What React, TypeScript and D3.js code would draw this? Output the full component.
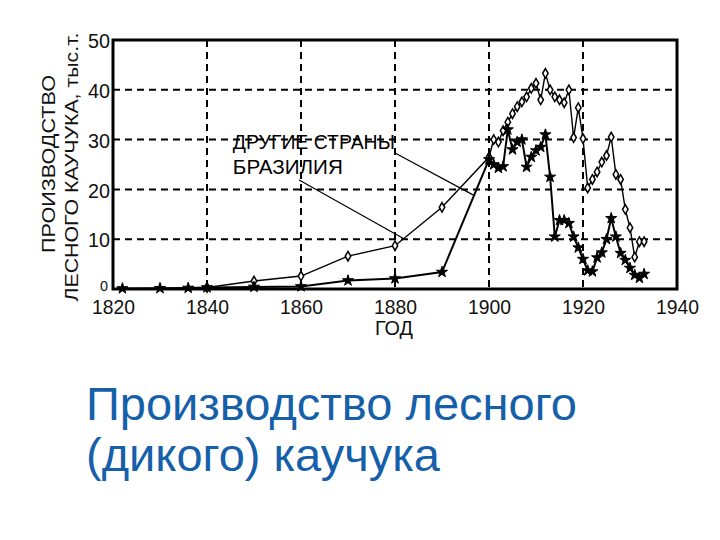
import React from "react";
import * as d3 from "d3";

const brazilYears = [1840, 1850, 1860, 1870, 1880, 1890, 1900, 1901, 1902, 1903, 1904, 1905, 1906, 1907, 1908, 1909, 1910, 1911, 1912, 1913, 1914, 1915, 1916, 1917, 1918, 1919, 1920, 1921, 1922, 1923, 1924, 1925, 1926, 1927, 1928, 1929, 1930, 1931, 1932, 1933];
const brazilValues = [0.3, 1.6, 2.6, 6.6, 8.7, 16.4, 26.5, 30.0, 29.5, 31.8, 33.5, 35.2, 36.6, 37.6, 38.6, 40.3, 41.3, 38.0, 43.3, 40.0, 38.6, 38.0, 37.4, 40.0, 30.4, 36.4, 30.2, 20.3, 22.0, 23.5, 25.5, 26.8, 30.5, 23.0, 22.0, 16.0, 12.3, 6.4, 9.5, 9.5];

const otherYears = [1822, 1830, 1836, 1840, 1850, 1860, 1870, 1880, 1890, 1900, 1901, 1902, 1903, 1904, 1905, 1906, 1907, 1908, 1909, 1910, 1911, 1912, 1913, 1914, 1915, 1916, 1917, 1918, 1919, 1920, 1921, 1922, 1923, 1924, 1925, 1926, 1927, 1928, 1929, 1930, 1931, 1932, 1933];
const otherValues = [0.1, 0.15, 0.2, 0.3, 0.4, 0.5, 1.7, 2.1, 3.4, 26.0, 25.0, 24.3, 24.6, 32.0, 28.0, 29.5, 30.0, 24.5, 26.5, 27.8, 28.5, 31.0, 22.5, 10.5, 13.8, 13.8, 13.2, 10.5, 8.3, 6.0, 3.7, 3.5, 6.3, 7.3, 10.0, 14.2, 10.5, 7.2, 5.8, 4.2, 2.8, 2.2, 3.0];

const xTicks = [1820, 1840, 1860, 1880, 1900, 1920, 1940];
const yTicks = [0, 10, 20, 30, 40, 50];

const annotationLabels = ["ДРУГИЕ СТРАНЫ", "БРАЗИЛИЯ"];
const annotationTextYear = [1845.5, 1845.5];
const annotationTextValue = [28.1, 23.1];
const annotationFromYear = [1880.0, 1859.6];
const annotationFromValue = [27.3, 21.9];
const annotationToYear = [1896.6, 1881.7];
const annotationToValue = [18.9, 10.2];

const yTitleLines = ["ПРОИЗВОДСТВО", "ЛЕСНОГО КАУЧУКА, тыс.т."];
const xTitle = "ГОД";
const titleLines = ["Производство лесного", "(дикого) каучука"];

const FONT = "'Liberation Sans', Arial, sans-serif";

export default function App() {
  const x = d3.scaleLinear().domain([1820, 1940]).range([113, 677]);
  const y = d3.scaleLinear().domain([0, 50]).range([289, 40]);

  const brazil = brazilYears.map((yr, i) => [yr, brazilValues[i]] as [number, number]);
  const other = otherYears.map((yr, i) => [yr, otherValues[i]] as [number, number]);

  const line = d3
    .line<[number, number]>()
    .x((d) => x(d[0]))
    .y((d) => y(d[1]));

  const star = d3.symbol().type(d3.symbolStar).size(38)() as string;
  const diamond = d3.symbol().type(d3.symbolDiamond).size(26)() as string;

  return (
    <svg
      width={720}
      height={540}
      style={{ position: "absolute", left: 0, top: 0, background: "#fff" }}
    >
      <rect x={0} y={0} width={720} height={540} fill="#fff" />
      {/* grid */}
      {xTicks.slice(1, -1).map((t) => (
        <line key={"gx" + t} x1={x(t)} x2={x(t)} y1={y(50)} y2={y(0)} stroke="#000" strokeWidth={2} strokeDasharray="7,5" />
      ))}
      {yTicks.slice(1, -1).map((t) => (
        <line key={"gy" + t} x1={x(1820)} x2={x(1940)} y1={y(t)} y2={y(t)} stroke="#000" strokeWidth={2} strokeDasharray="7,5" />
      ))}
      {/* frame */}
      <rect x={x(1820)} y={y(50)} width={x(1940) - x(1820)} height={y(0) - y(50)} fill="none" stroke="#000" strokeWidth={3} />

      {/* annotations */}
      {annotationLabels.map((lab, i) => (
        <g key={"an" + i}>
          <text
            x={x(annotationTextYear[i])}
            y={y(annotationTextValue[i])}
            fontFamily={FONT}
            fontSize={20}
            fill="#000"
            textLength={i === 0 ? 162 : 110}
            lengthAdjust="spacingAndGlyphs"
          >
            {lab}
          </text>
          <line
            x1={x(annotationFromYear[i])}
            y1={y(annotationFromValue[i])}
            x2={x(annotationToYear[i])}
            y2={y(annotationToValue[i])}
            stroke="#000"
            strokeWidth={1.2}
          />
        </g>
      ))}

      {/* series */}
      <path d={line(brazil) || ""} fill="none" stroke="#000" strokeWidth={1.4} />
      <path d={line(other) || ""} fill="none" stroke="#000" strokeWidth={2} />
      {brazil.map((d, i) => (
        <path key={"b" + i} d={diamond} transform={`translate(${x(d[0])},${y(d[1])})`} fill="#fff" stroke="#000" strokeWidth={1.5} />
      ))}
      {other.map((d, i) => (
        <path key={"o" + i} d={star} transform={`translate(${x(d[0])},${y(d[1])})`} fill="#000" stroke="#000" strokeWidth={1} />
      ))}

      {/* y tick labels */}
      {yTicks.map((t) => (
        <text
          key={"yl" + t}
          x={t === 0 ? 108 : 110}
          y={y(t) + (t === 0 ? -3 : 1)}
          dy="0.36em"
          textAnchor="end"
          fontFamily={FONT}
          fontSize={t === 0 ? 14 : 20}
          fill="#111"
          textLength={t === 0 ? 8 : 22}
          lengthAdjust="spacingAndGlyphs"
        >
          {t}
        </text>
      ))}
      {/* x tick labels */}
      {xTicks.map((t) => (
        <text
          key={"xl" + t}
          x={x(t) - 21}
          y={314}
          fontFamily={FONT}
          fontSize={21}
          fill="#111"
          textLength={43}
          lengthAdjust="spacingAndGlyphs"
        >
          {t}
        </text>
      ))}
      <text x={375} y={335} fontFamily={FONT} fontSize={20} fill="#111" textLength={38} lengthAdjust="spacingAndGlyphs">
        {xTitle}
      </text>

      {/* y title */}
      <text transform="translate(55,164) rotate(-90)" textAnchor="middle" fontFamily={FONT} fontSize={18} fill="#111" textLength={178} lengthAdjust="spacingAndGlyphs">
        {yTitleLines[0]}
      </text>
      <text transform="translate(78,167) rotate(-90)" textAnchor="middle" fontFamily={FONT} fontSize={18} fill="#111" textLength={269} lengthAdjust="spacingAndGlyphs">
        {yTitleLines[1]}
      </text>

      {/* slide title */}
      {titleLines.map((t, i) => (
        <text key={"t" + i} x={86} y={420 + i * 51} fontFamily={FONT} fontSize={47} fill="#1660aa">
          {t}
        </text>
      ))}
    </svg>
  );
}
